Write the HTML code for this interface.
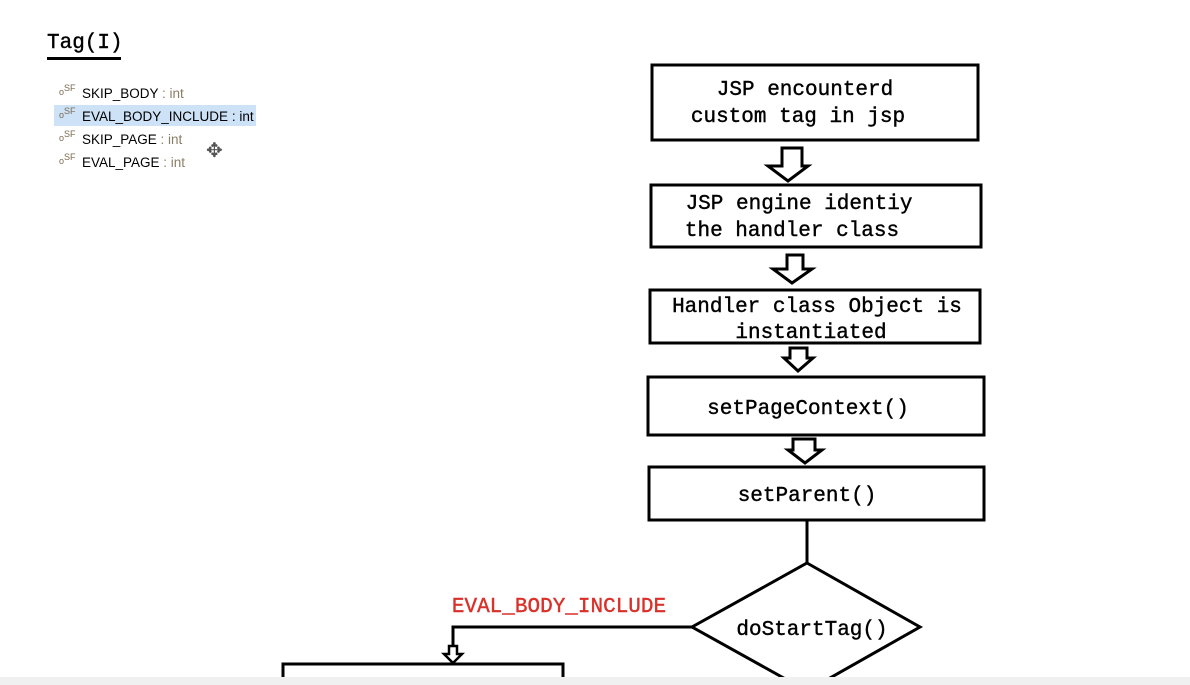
<!DOCTYPE html>
<html><head><meta charset="utf-8"><style>
html,body{margin:0;padding:0;background:#fff;width:1190px;height:685px;overflow:hidden}
svg{display:block}
.m{font-family:"Liberation Mono",monospace;font-size:21px;fill:#000;stroke:#000;stroke-width:0.4}
.s{font-family:"Liberation Sans",sans-serif;font-size:13.5px}
</style></head><body>
<svg width="1190" height="685" viewBox="0 0 1190 685" xmlns="http://www.w3.org/2000/svg">
<rect x="0" y="0" width="1190" height="685" fill="#fff"/>
<text x="47" y="48" class="m">Tag(I)</text>
<rect x="47" y="57" width="74" height="3" fill="#000"/>
<rect x="54" y="105" width="202" height="21" fill="#cde1f7"/>
<g class="s">
<text x="59" y="95" font-size="9" fill="#7a6a50">o<tspan dy="-4">SF</tspan></text>
<text x="82" y="98" fill="#000">SKIP_BODY<tspan fill="#8a7d66"> : int</tspan></text>
<text x="59" y="118" font-size="9" fill="#7a6a50">o<tspan dy="-4">SF</tspan></text>
<text x="82" y="121" fill="#000">EVAL_BODY_INCLUDE<tspan fill="#000"> : int</tspan></text>
<text x="59" y="141" font-size="9" fill="#7a6a50">o<tspan dy="-4">SF</tspan></text>
<text x="82" y="144" fill="#000">SKIP_PAGE<tspan fill="#8a7d66"> : int</tspan></text>
<text x="59" y="164" font-size="9" fill="#7a6a50">o<tspan dy="-4">SF</tspan></text>
<text x="82" y="167" fill="#000">EVAL_PAGE<tspan fill="#8a7d66"> : int</tspan></text>
</g>
<text x="206" y="157" font-family="DejaVu Sans" font-size="20" fill="#555">✥</text>

<g fill="none" stroke="#000" stroke-width="3">
<rect x="652" y="65" width="326" height="75"/>
<rect x="651" y="185" width="330" height="62"/>
<rect x="650" y="290" width="330" height="53"/>
<rect x="648" y="377" width="336" height="58"/>
<rect x="649" y="467" width="335" height="53"/>
<line x1="807" y1="520" x2="807" y2="563"/>
<polygon points="807,563 920,627 807,691 692,627"/>
<polyline points="692,627 453,627 453,646"/>
<rect x="283" y="664" width="280" height="40"/>
<polygon points="782,148 802,148 802,166 808,166 788,181 768,166 782,166"/>
<polygon points="787,255 803,255 803,269 812,269 792,283 773,269 787,269"/>
<polygon points="790,348 807,348 807,358 813,358 798,371 784,358 790,358"/>
<polygon points="793,439 815,439 815,450 822,450 805,463 788,450 793,450"/>
</g>
<polygon points="449,646 457,646 457,654 462,654 453,663 444,654 449,654" fill="#fff" stroke="#000" stroke-width="2.5"/>

<g class="m" text-anchor="middle">
<text x="805" y="95">JSP encounterd</text>
<text x="798" y="122">custom tag in jsp</text>
<text x="799" y="209">JSP engine identiy</text>
<text x="792" y="236">the handler class</text>
<text x="817" y="312">Handler class Object is</text>
<text x="811" y="338">instantiated</text>
<text x="808" y="414">setPageContext()</text>
<text x="807" y="501">setParent()</text>
<text x="812" y="635">doStartTag()</text>
<text x="559" y="612" style="fill:#d9312a;stroke:#d9312a">EVAL_BODY_INCLUDE</text>
</g>
<rect x="0" y="677" width="1190" height="8" fill="#f0f0f0"/>
</svg>
</body></html>
